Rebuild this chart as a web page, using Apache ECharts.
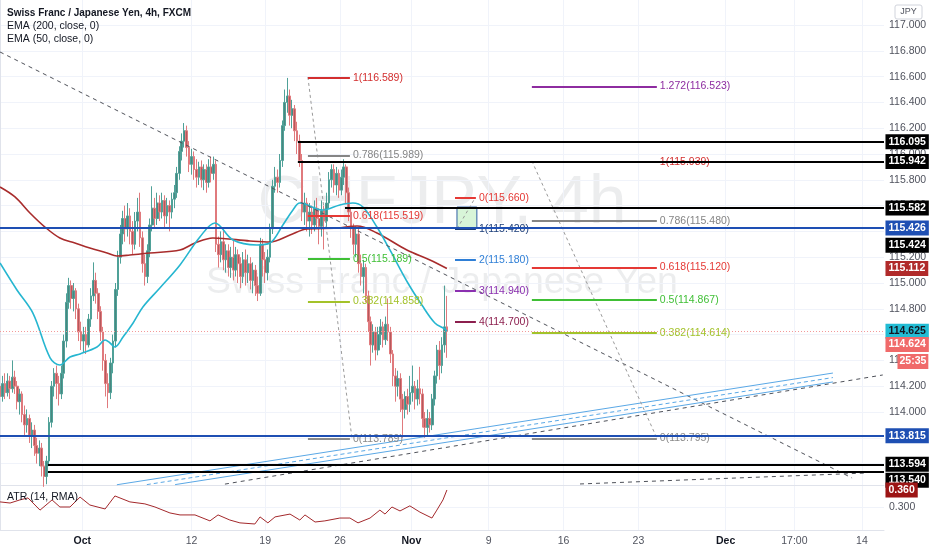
<!DOCTYPE html>
<html>
<head>
<meta charset="utf-8">
<script src="https://cdn.jsdelivr.net/npm/echarts@6/dist/echarts.min.js"></script>
<style>
html,body{margin:0;padding:0;background:#ffffff;}
#chart{width:932px;height:550px;}
</style>
</head>
<body>
<div id="chart"></div>
<script>
// ---------------- data ----------------
const opens = [114.20,114.12,114.22,114.15,114.24,114.18,114.27,114.20,114.08,114.14,
113.98,113.90,113.95,113.82,113.86,113.74,113.68,113.72,113.58,113.50,
113.62,113.92,114.20,114.30,114.22,114.14,114.30,114.55,114.85,114.98,
114.88,114.94,114.80,114.62,114.55,114.60,114.52,114.72,114.90,115.02,
114.92,114.78,114.62,114.40,114.22,114.15,114.38,114.55,114.95,115.20,
115.38,115.50,115.42,115.52,115.40,115.30,115.48,115.55,115.35,115.15,
115.05,115.25,115.45,115.58,115.50,115.62,115.55,115.64,115.52,115.60,
115.55,115.65,115.70,115.85,116.02,116.10,116.18,116.05,115.92,115.98,
115.88,115.82,115.90,115.80,115.88,115.78,115.90,115.85,115.92,115.30,
115.22,115.32,115.18,115.25,115.12,115.20,115.10,115.22,115.15,115.05,
115.18,115.08,115.15,115.02,115.10,114.98,114.92,115.30,115.18,115.08,
115.20,115.42,115.75,115.82,115.78,115.95,116.22,116.40,116.45,116.30,
116.35,116.18,116.10,115.95,115.55,115.62,115.48,115.55,115.45,115.58,
115.50,115.44,115.56,115.48,115.62,115.80,115.88,115.76,115.85,115.72,
115.82,115.90,115.70,115.55,115.42,115.30,115.38,115.15,115.05,115.12,
114.90,114.70,114.52,114.62,114.48,114.60,114.66,114.56,114.68,114.62,
114.45,114.28,114.20,114.26,114.10,114.02,114.12,114.06,114.15,114.20,
114.10,114.18,114.14,113.95,113.88,113.95,113.90,114.10,114.28,114.48,
114.36,114.52,114.66];
const closes = [114.12,114.22,114.15,114.24,114.18,114.27,114.20,114.08,114.14,113.98,
113.90,113.95,113.82,113.86,113.74,113.68,113.72,113.58,113.50,113.62,
113.92,114.20,114.30,114.22,114.14,114.30,114.55,114.85,114.98,114.88,
114.94,114.80,114.62,114.55,114.60,114.52,114.72,114.90,115.02,114.92,
114.78,114.62,114.40,114.22,114.15,114.38,114.55,114.95,115.20,115.38,
115.50,115.42,115.52,115.40,115.30,115.48,115.55,115.35,115.15,115.05,
115.25,115.45,115.58,115.50,115.62,115.55,115.64,115.52,115.60,115.55,
115.65,115.70,115.85,116.02,116.10,116.18,116.05,115.92,115.98,115.88,
115.82,115.90,115.80,115.88,115.78,115.90,115.85,115.92,115.30,115.22,
115.32,115.18,115.25,115.12,115.20,115.10,115.22,115.15,115.05,115.18,
115.08,115.15,115.02,115.10,114.98,114.92,115.30,115.18,115.08,115.20,
115.42,115.75,115.82,115.78,115.95,116.22,116.40,116.45,116.30,116.35,
116.18,116.10,115.95,115.55,115.62,115.48,115.55,115.45,115.58,115.50,
115.44,115.56,115.48,115.62,115.80,115.88,115.76,115.85,115.72,115.82,
115.90,115.70,115.55,115.42,115.30,115.38,115.15,115.05,115.12,114.90,
114.70,114.52,114.62,114.48,114.60,114.66,114.56,114.68,114.62,114.45,
114.28,114.20,114.26,114.10,114.02,114.12,114.06,114.15,114.20,114.10,
114.18,114.14,113.95,113.88,113.95,113.90,114.10,114.28,114.48,114.36,
114.52,114.66,114.624];
const lows = [114.05,114.08,114.10,114.12,114.10,114.15,114.14,114.02,113.98,113.92,
113.82,113.84,113.76,113.72,113.66,113.60,113.58,113.50,113.42,113.44,
113.58,113.88,114.12,114.10,114.05,114.10,114.26,114.50,114.80,114.80,
114.78,114.72,114.55,114.48,114.46,114.45,114.50,114.66,114.86,114.84,
114.72,114.55,114.32,114.12,114.03,114.10,114.30,114.50,114.90,115.15,
115.30,115.32,115.36,115.30,115.22,115.26,115.40,115.28,115.08,114.98,
115.00,115.20,115.40,115.42,115.45,115.48,115.50,115.42,115.46,115.40,
115.50,115.58,115.66,115.80,115.95,116.05,115.98,115.86,115.84,115.80,
115.74,115.76,115.74,115.72,115.70,115.74,115.78,115.80,115.24,115.12,
115.16,115.10,115.08,115.05,115.04,115.02,115.05,115.00,114.96,115.00,
114.98,115.00,114.95,114.92,114.90,114.86,114.90,115.05,115.00,115.02,
115.16,115.38,115.70,115.70,115.74,115.90,116.18,116.32,116.22,116.20,
116.10,116.00,115.90,115.48,115.45,115.40,115.36,115.38,115.40,115.42,
115.30,115.36,115.26,115.42,115.58,115.74,115.70,115.68,115.66,115.68,
115.76,115.62,115.48,115.35,115.22,115.20,115.08,114.98,114.92,114.85,
114.62,114.36,114.46,114.40,114.44,114.52,114.50,114.52,114.55,114.38,
114.20,114.08,114.12,114.00,113.80,113.95,113.98,114.00,114.08,114.02,
114.05,114.06,113.88,113.80,113.82,113.84,113.86,114.05,114.22,114.25,
114.30,114.46,114.42];
const highs = [114.25,114.28,114.30,114.30,114.28,114.40,114.32,114.24,114.18,114.16,
114.05,114.02,113.98,113.92,113.90,113.80,113.78,113.76,113.62,113.66,
113.96,114.24,114.34,114.36,114.28,114.36,114.60,114.92,115.04,115.02,
115.00,114.96,114.84,114.70,114.66,114.66,114.76,114.96,115.16,115.08,
114.96,114.82,114.66,114.45,114.30,114.42,114.60,115.00,115.25,115.45,
115.56,115.60,115.62,115.58,115.48,115.55,115.66,115.70,115.40,115.22,
115.30,115.50,115.75,115.66,115.70,115.68,115.70,115.68,115.66,115.64,
115.70,115.76,115.90,116.06,116.16,116.24,116.22,116.10,116.04,116.02,
115.96,115.94,115.95,115.92,115.92,115.96,115.98,115.98,115.95,115.36,
115.40,115.42,115.30,115.30,115.28,115.34,115.28,115.26,115.20,115.24,
115.26,115.22,115.20,115.16,115.14,115.05,115.35,115.34,115.24,115.26,
115.46,115.80,115.90,115.88,116.00,116.26,116.50,116.59,116.50,116.42,
116.38,116.25,116.15,116.00,115.70,115.66,115.62,115.60,115.64,115.66,
115.58,115.64,115.60,115.70,115.86,115.92,115.92,115.90,115.88,115.88,
115.96,115.92,115.74,115.58,115.46,115.44,115.42,115.22,115.18,115.15,
114.94,114.74,114.68,114.66,114.66,114.72,114.70,114.74,114.88,114.66,
114.48,114.34,114.32,114.30,114.14,114.16,114.18,114.28,114.36,114.24,
114.25,114.35,114.18,114.00,114.02,114.00,114.14,114.32,114.52,114.55,
114.58,114.98,114.90];

// EMA vertices [bar, price]
const ema200 = [[0,115.744],[6.1,115.667],[12.2,115.543],[18.3,115.434],[24.4,115.349],[30.5,115.310],
[36.6,115.271],[43.6,115.233],[47.6,115.209],[52.9,115.217],[61.1,115.233],[73.3,115.256],
[79.4,115.310],[86.7,115.349],[101.8,115.326],[109.9,115.318],[118.1,115.372],[125,115.419],
[137.2,115.426],[145.4,115.442],[153.5,115.388],[165.7,115.256],[175.1,115.178],[182,115.112]];
const ema50 = [[0,115.155],[6.9,114.946],[13.4,114.767],[20.4,114.419],[24.4,114.364],[28.5,114.426],
[32.6,114.450],[39.5,114.504],[42.8,114.558],[44.8,114.535],[46.8,114.504],[50.1,114.581],
[54.2,114.690],[58.2,114.814],[65.1,114.961],[73.3,115.140],[81.4,115.357],[87.5,115.465],
[94.9,115.333],[104.6,115.295],[109.9,115.310],[115.2,115.450],[119.3,115.566],[122.1,115.620],
[131.5,115.566],[138.4,115.605],[143.7,115.620],[147.8,115.589],[153.5,115.434],[158.8,115.256],
[166.1,115.000],[171.8,114.829],[177.1,114.690],[181.2,114.643],[182,114.625]];
// ATR(14) vertices [bar, value]
const atr14 = [[0,0.318],[4.1,0.314],[8.1,0.325],[11.4,0.332],[16.3,0.289],[21.2,0.325],[24.4,0.300],
[28.5,0.300],[32.6,0.335],[36.6,0.307],[42.8,0.293],[46.8,0.339],[52.9,0.318],[59,0.311],[63.1,0.300],
[69.2,0.279],[73.3,0.272],[79.4,0.272],[85.5,0.251],[88.8,0.272],[93.6,0.254],[97.7,0.244],[103.8,0.240],
[105.9,0.265],[109.1,0.244],[112,0.265],[118.1,0.275],[122.1,0.254],[124.2,0.272],[128.3,0.247],
[132.3,0.251],[138.4,0.261],[142.5,0.261],[145.8,0.244],[150.7,0.261],[154.7,0.289],[156.8,0.275],
[159.6,0.300],[162.9,0.286],[166.9,0.304],[171,0.282],[175.9,0.261],[177.9,0.289],[180.4,0.325],[182,0.360]];

const xTickPos = [33.5,78,108,138.5,167.5,199,229.5,260,295.5,323.5,351];
const xTickLabels = ['Oct','12','19','26','Nov','9','16','23','Dec','17:00','14'];
const priceTicks = [113.6,113.8,114.0,114.2,114.4,114.6,114.8,115.0,115.2,115.4,115.6,115.8,116.0,116.2,116.4,116.6,116.8,117.0];
const atrTicks = [0.3];

// horizontal levels: price, anchor bar, kind
const levelPrices = [116.095,115.942,115.582,115.426,113.815,113.594,113.540];
const levelStartBars = [121.3,121.3,140.5,0,0,19.5,19.5];
const levelKinds = ['black','black','black','blue','blue','black','black'];
// right-scale tags
const tagValues = [116.095,115.942,115.582,115.426,115.424,115.112,114.625,114.624,113.815,113.594,113.540];
const tagKinds = ['black','black','black','blue','black','ema200','ema50','price','blue','black','black'];
const lastPrice = 114.624;
const countdownText = '25:35';
const atrLast = 0.360;

// fibonacci drawings
const fibALevels = ['1','0.786','0.618','0.5','0.382','0'];
const fibAPrices = [116.589,115.989,115.519,115.189,114.858,113.789];
const fibASpan = [125.4,142.5];
const fibATrend = [[125.4,116.597],[143.3,113.798]];
const fibBLevels = ['1.272','1','0.786','0.618','0.5','0.382','0'];
const fibBPrices = [116.523,115.939,115.480,115.120,114.867,114.614,113.795];
const fibBSpan = [216.6,267.5];
const fibBTrend = [[216.6,115.946],[267.5,113.798]];
const fibCLevels = ['0','1','2','3','4'];
const fibCPrices = [115.660,115.420,115.180,114.940,114.700];
const fibCSpan = [185.3,193.8];
const fibCBox = [[186.1,115.589],[194.2,115.426]];
const fibCTrend = [[186.1,115.42],[193.5,115.66]];

// trend lines [bar, price]
const trendMain = [[0,116.791],[347,113.488]];
const channelTop = [[47.6,113.436],[339.2,114.302]];
const channelMid = [[59.8,113.437],[339.2,114.267]];
const channelBot = [[71.3,113.437],[339.2,114.233]];
const trendLow = [[91.6,113.441],[359.5,114.287]];
const trendBottom = [[236.2,113.442],[353,113.527]];

// ---------------- chart ----------------
const XMAX = 360;
const FONT = '"Liberation Sans", Arial, sans-serif';
const candleData = opens.map((o, i) => [i, o, closes[i], lows[i], highs[i]]);

const levelColor = { black: '#000000', blue: '#1e4fb3' };
const tagStyle = {
  black: { bg: '#000000', fg: '#ffffff' },
  blue: { bg: '#1e4fb3', fg: '#ffffff' },
  ema200: { bg: '#b02a2a', fg: '#ffffff' },
  ema50: { bg: '#22bcd4', fg: '#131722' },
  price: { bg: '#f06a6a', fg: '#ffffff' }
};
const tagOffsets = { 4: 17, 7: 13, 10: 9 };
const fibColor = {
  '1.272': '#8e2ca0', '1': '#d32f2f', '0.786': '#858585', '0.618': '#e53935',
  '0.5': '#3fbf35', '0.382': '#a3c22a', '0': '#8a8a8a'
};
const fibCColors = ['#e53935', '#1d3f7a', '#2f7fd6', '#8b30b0', '#8c1f4e'];

function seg(p0, p1, lineStyle) {
  return [{ coord: p0, lineStyle: lineStyle, label: { show: false } }, { coord: p1 }];
}
function fibSeg(x0, x1, price, text, color) {
  return [{
    coord: [x0, price],
    lineStyle: { color: color, width: 2, type: 'solid' },
    label: { show: true, position: 'end', distance: 3, formatter: text, color: color, fontSize: 10.5, fontFamily: FONT }
  }, { coord: [x1, price] }];
}
function tag(y, text, st, offY, offX, pad) {
  return {
    coord: [XMAX - 0.01, y], symbol: 'rect', symbolSize: 1, itemStyle: { color: 'rgba(0,0,0,0)' },
    label: {
      show: true, position: 'right', distance: 1, offset: [offX || 0, offY || 0],
      formatter: text, backgroundColor: st.bg, color: st.fg, fontWeight: 'bold',
      fontSize: 10.5, fontFamily: FONT, padding: pad || [2, 3, 1, 3], lineHeight: 12
    }
  };
}

const fibLines = [];
fibALevels.forEach((l, i) => fibLines.push(fibSeg(fibASpan[0], fibASpan[1], fibAPrices[i], l + '(' + fibAPrices[i].toFixed(3) + ')', fibColor[l])));
fibBLevels.forEach((l, i) => fibLines.push(fibSeg(fibBSpan[0], fibBSpan[1], fibBPrices[i], l + '(' + fibBPrices[i].toFixed(3) + ')', fibColor[l])));
fibCLevels.forEach((l, i) => fibLines.push(fibSeg(fibCSpan[0], fibCSpan[1], fibCPrices[i], l + '(' + fibCPrices[i].toFixed(3) + ')', fibCColors[i])));

const dashDark = { color: '#4f525a', width: 1, type: [4, 4] };
const dashLight = { color: '#9a9a9a', width: 1, type: [3, 3] };
const chanSolid = { color: '#5aa8e6', width: 1, type: 'solid' };
const chanDash = { color: '#5aa8e6', width: 1, type: [4, 3] };
const trendLines = [
  seg(trendMain[0], trendMain[1], dashDark),
  seg(channelTop[0], channelTop[1], chanSolid),
  seg(channelMid[0], channelMid[1], chanDash),
  seg(channelBot[0], channelBot[1], chanSolid),
  seg(trendLow[0], trendLow[1], dashDark),
  seg(trendBottom[0], trendBottom[1], dashDark),
  seg(fibATrend[0], fibATrend[1], dashLight),
  seg(fibBTrend[0], fibBTrend[1], dashLight),
  seg(fibCTrend[0], fibCTrend[1], dashLight)
];

const levelLines = levelPrices.map((p, i) => seg([levelStartBars[i], p], [XMAX, p], { color: levelColor[levelKinds[i]], width: 2, type: 'solid' }));
levelLines.push(seg([0, lastPrice], [XMAX, lastPrice], { color: '#f39a9a', width: 1, type: [1, 2] }));

const tags = tagValues.map((v, i) => tag(v, v.toFixed(3), tagStyle[tagKinds[i]], tagOffsets[i] || 0, 0));
tags.push(tag(lastPrice, countdownText, tagStyle.price, 30, 12, [2, 2, 1, 2]));

function xLabel(v) {
  const k = xTickPos.findIndex(p => Math.abs(p - v) < 1e-6);
  if (k < 0) return '';
  const t = xTickLabels[k];
  return /^[A-Za-z]/.test(t) ? '{b|' + t + '}' : t;
}

const chart = echarts.init(document.getElementById('chart'), null, { renderer: 'canvas', width: 932, height: 550 });
const axisGray = '#e0e3eb';
const gridGray = '#f0f3fa';
const textGray = '#50535e';

chart.setOption({
  animation: false,
  backgroundColor: '#ffffff',
  textStyle: { fontFamily: FONT },
  grid: [
    { left: 0, right: 48, top: 0, height: 485 },
    { left: 0, right: 48, top: 486, height: 44 }
  ],
  xAxis: [
    {
      type: 'value', gridIndex: 0, min: 0, max: XMAX,
      axisLabel: { show: false }, axisTick: { show: false, customValues: xTickPos },
      axisLine: { show: true, onZero: false, lineStyle: { color: axisGray } },
      splitLine: { show: true, lineStyle: { color: gridGray } }
    },
    {
      type: 'value', gridIndex: 1, min: 0, max: XMAX,
      axisTick: { show: false, customValues: xTickPos },
      axisLabel: {
        customValues: xTickPos, formatter: xLabel, color: textGray, fontSize: 10.5, margin: 6, fontFamily: FONT,
        rich: { b: { fontWeight: 'bold', color: '#131722', fontSize: 10.5, fontFamily: FONT } }
      },
      axisLine: { show: true, onZero: false, lineStyle: { color: axisGray } },
      splitLine: { show: true, lineStyle: { color: gridGray } }
    }
  ],
  yAxis: [
    {
      type: 'value', gridIndex: 0, position: 'right', min: 113.434, max: 117.194, scale: true,
      axisTick: { show: false, customValues: priceTicks },
      axisLabel: { customValues: priceTicks, formatter: v => v.toFixed(3), color: textGray, fontSize: 10.5, margin: 5, fontFamily: FONT },
      axisLine: { show: true, lineStyle: { color: axisGray } },
      splitLine: { show: true, lineStyle: { color: gridGray } }
    },
    {
      type: 'value', gridIndex: 1, position: 'right', min: 0.2188, max: 0.3741, scale: true,
      axisTick: { show: false, customValues: atrTicks },
      axisLabel: { customValues: atrTicks, formatter: v => v.toFixed(3), color: textGray, fontSize: 10.5, margin: 5, fontFamily: FONT },
      axisLine: { show: true, lineStyle: { color: axisGray } },
      splitLine: { show: true, lineStyle: { color: gridGray } }
    }
  ],
  graphic: [
    { type: 'text', x: 442, y: 204, z: 0, silent: true,
      style: { text: 'CHFJPY, 4h', fontSize: 68, fontFamily: FONT, fill: 'rgba(19,23,34,0.08)', align: 'center', verticalAlign: 'middle' } },
    { type: 'text', x: 442, y: 283, z: 0, silent: true,
      style: { text: 'Swiss Franc / Japanese Yen', fontSize: 37.5, fontFamily: FONT, fill: 'rgba(19,23,34,0.08)', align: 'center', verticalAlign: 'middle' } },
    { type: 'text', x: 7, y: 13, z: 100, silent: true,
      style: { text: 'Swiss Franc / Japanese Yen, 4h, FXCM', fontSize: 10, fontWeight: 'bold', fontFamily: FONT, fill: '#131722', verticalAlign: 'middle' } },
    { type: 'text', x: 7, y: 26, z: 100, silent: true,
      style: { text: 'EMA (200, close, 0)', fontSize: 10.5, fontFamily: FONT, fill: '#131722', verticalAlign: 'middle' } },
    { type: 'text', x: 7, y: 39, z: 100, silent: true,
      style: { text: 'EMA (50, close, 0)', fontSize: 10.5, fontFamily: FONT, fill: '#131722', verticalAlign: 'middle' } },
    { type: 'text', x: 7, y: 497, z: 100, silent: true,
      style: { text: 'ATR (14, RMA)', fontSize: 10.5, fontFamily: FONT, fill: '#131722', verticalAlign: 'middle' } },
    { type: 'rect', x: 895, y: 5, z: 100, silent: true, shape: { width: 27, height: 14, r: 2 },
      style: { fill: '#ffffff', stroke: '#d1d4dc', lineWidth: 1 } },
    { type: 'text', x: 908.5, y: 12, z: 101, silent: true,
      style: { text: 'JPY', fontSize: 9, fontFamily: FONT, fill: '#50535e', align: 'center', verticalAlign: 'middle' } }
  ],
  series: [
    {
      name: 'CHFJPY', type: 'candlestick', xAxisIndex: 0, yAxisIndex: 0, z: 2,
      dimensions: ['bar', 'open', 'close', 'lowest', 'highest'],
      encode: { x: 0, y: [1, 2, 3, 4] },
      data: candleData, barWidth: 2.2,
      itemStyle: { color: '#4a8780', color0: '#b5595c', borderColor: '#4fa198', borderColor0: '#e07a7d', borderWidth: 1 }
    },
    {
      name: 'EMA200', type: 'line', xAxisIndex: 0, yAxisIndex: 0, z: 3, data: ema200,
      showSymbol: false, smooth: 0.35, lineStyle: { color: '#a82c2c', width: 1.6 }
    },
    {
      name: 'EMA50', type: 'line', xAxisIndex: 0, yAxisIndex: 0, z: 3, data: ema50,
      showSymbol: false, smooth: 0.35, lineStyle: { color: '#26b6d0', width: 1.6 }
    },
    {
      name: 'trend', type: 'line', xAxisIndex: 0, yAxisIndex: 0, data: [],
      markLine: { silent: true, symbol: ['none', 'none'], z: 4, data: trendLines }
    },
    {
      name: 'fib', type: 'line', xAxisIndex: 0, yAxisIndex: 0, data: [],
      markArea: { silent: true, z: 4, itemStyle: { color: 'rgba(190,238,190,0.6)', borderColor: '#2e5fa3', borderWidth: 1 },
        data: [[{ coord: fibCBox[0] }, { coord: fibCBox[1] }]] },
      markLine: { silent: true, symbol: ['none', 'none'], z: 5, data: fibLines }
    },
    {
      name: 'levels', type: 'line', xAxisIndex: 0, yAxisIndex: 0, data: [],
      markLine: { silent: true, symbol: ['none', 'none'], z: 6, data: levelLines }
    },
    {
      name: 'tags', type: 'line', xAxisIndex: 0, yAxisIndex: 0, data: [],
      markPoint: { silent: true, z: 10, data: tags }
    },
    {
      name: 'ATR', type: 'line', xAxisIndex: 1, yAxisIndex: 1, data: atr14, z: 3,
      showSymbol: false, lineStyle: { color: '#a3282b', width: 1 },
      markPoint: { silent: true, z: 10, data: [tag(atrLast, atrLast.toFixed(3), { bg: '#9c1515', fg: '#ffffff' }, 0, 0)] }
    }
  ]
});
</script>
</body>
</html>
